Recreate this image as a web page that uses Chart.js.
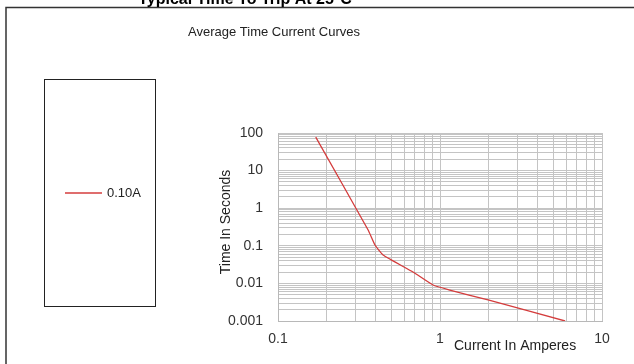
<!DOCTYPE html>
<html lang="en">
<head>
  <meta charset="UTF-8">
  <title>Typical Time To Trip At 25°C</title>
  <style>
    html, body { margin: 0; padding: 0; background: #fff; }
    #wrap { width: 634px; height: 364px; position: relative; }
  </style>
</head>
<body>
  <div id="wrap">
    <canvas id="tripChart" width="634" height="364"></canvas>
  </div>
  <script src="https://cdn.jsdelivr.net/npm/chart.js"></script>
  <script>
    // values
    const currentAmps = [0.171, 0.36, 0.397, 0.445, 0.681, 0.906, 1.15, 1.98, 5.92];
    const timeSeconds = [78, 0.263, 0.105, 0.0569, 0.0201, 0.00906, 0.00667, 0.00362, 0.001];
    const seriesName = '0.10A';
    const xTickLabels = ['0.1', '1', '10'];
    const yTickLabels = ['0.001', '0.01', '0.1', '1', '10', '100'];

    const pageTitle = 'Typical Time To Trip At 25°C';
    const chartTitle = 'Average Time Current Curves';
    const xTitle = 'Current In Amperes';
    const yTitle = 'Time In Seconds';

    const font = 'Liberation Sans, Arial, sans-serif';
    const lineColor = '#d43c3c';

    function labelFor(list, v) {
      const hit = list.find(s => Math.abs(parseFloat(s) - v) < v * 1e-6);
      return hit || '';
    }

    // decades 1..9 only (no 1.5 ticks)
    function logTicks(list) {
      const lo = Math.log10(parseFloat(list[0]));
      const hi = Math.log10(parseFloat(list[list.length - 1]));
      const out = [];
      for (let e = Math.round(lo); e < Math.round(hi); e++) {
        for (let m = 1; m < 10; m++) {
          out.push({ value: parseFloat((m * Math.pow(10, e)).toPrecision(6)) });
        }
      }
      out.push({ value: parseFloat(list[list.length - 1]) });
      return out;
    }

    const extras = {
      id: 'extras',
      afterDraw(chart) {
        const ctx = chart.ctx;
        ctx.save();

        // outer frame
        ctx.strokeStyle = '#333';
        ctx.lineWidth = 1.5;
        ctx.beginPath();
        ctx.moveTo(6, 364);
        ctx.lineTo(6, 7.5);
        ctx.lineTo(634, 7.5);
        ctx.stroke();

        ctx.fillStyle = '#000';
        ctx.textAlign = 'center';
        ctx.textBaseline = 'alphabetic';
        ctx.font = 'bold 16px ' + font;
        ctx.fillText(pageTitle, 245, 4);

        ctx.fillStyle = '#222';
        ctx.font = '13px ' + font;
        ctx.textBaseline = 'middle';
        ctx.fillText(chartTitle, 274, 32);

        // axis titles
        ctx.font = '14px ' + font;
        ctx.textAlign = 'left';
        ctx.fillText(xTitle, 454, 346);
        ctx.save();
        ctx.translate(226, 222);
        ctx.rotate(-Math.PI / 2);
        ctx.textAlign = 'center';
        ctx.fillText(yTitle, 0, 0);
        ctx.restore();

        // legend box
        const ds = chart.data.datasets[0];
        ctx.strokeStyle = '#222';
        ctx.lineWidth = 1;
        ctx.strokeRect(44.5, 79.5, 111, 227);
        ctx.strokeStyle = lineColor;
        ctx.lineWidth = 1.5;
        ctx.beginPath();
        ctx.moveTo(65, 193);
        ctx.lineTo(102, 193);
        ctx.stroke();
        ctx.font = '13px ' + font;
        ctx.fillStyle = '#222';
        ctx.textAlign = 'left';
        ctx.fillText(ds.label, 107, 193);

        ctx.restore();
      }
    };

    window.onload = function() {
      const ctx = document.getElementById('tripChart').getContext('2d');
      new Chart(ctx, {
        type: 'line',
        data: {
          datasets: [{
            label: seriesName,
            data: currentAmps.map((x, i) => ({ x: x, y: timeSeconds[i] })),
            borderColor: lineColor,
            borderWidth: 1.3,
            pointRadius: 0,
            tension: 0.15,
            fill: false
          }]
        },
        options: {
          responsive: false,
          animation: false,
          layout: { padding: { left: 218, top: 133, right: 32, bottom: 13 } },
          plugins: {
            legend: { display: false },
            title: { display: false },
            tooltip: { enabled: false }
          },
          scales: {
            x: {
              type: 'logarithmic',
              min: 0.1,
              max: 10,
              afterBuildTicks: s => { s.ticks = logTicks(xTickLabels); },
              afterFit: s => { s.height = 30; },
              grid: { color: '#c4c4c4', drawTicks: false },
              border: { color: '#b8b8b8' },
              ticks: {
                autoSkip: false,
                maxRotation: 0,
                padding: 10,
                color: '#333',
                font: { family: font, size: 14 },
                callback: v => labelFor(xTickLabels, v)
              }
            },
            y: {
              type: 'logarithmic',
              min: 0.001,
              max: 100,
              afterBuildTicks: s => { s.ticks = logTicks(yTickLabels); },
              afterFit: s => { s.width = 60; },
              grid: { color: '#c4c4c4', drawTicks: false },
              border: { color: '#b8b8b8' },
              ticks: {
                autoSkip: false,
                padding: 15,
                color: '#333',
                font: { family: font, size: 14 },
                callback: v => labelFor(yTickLabels, v)
              }
            }
          }
        },
        plugins: [extras]
      });
    };
  </script>
</body>
</html>
